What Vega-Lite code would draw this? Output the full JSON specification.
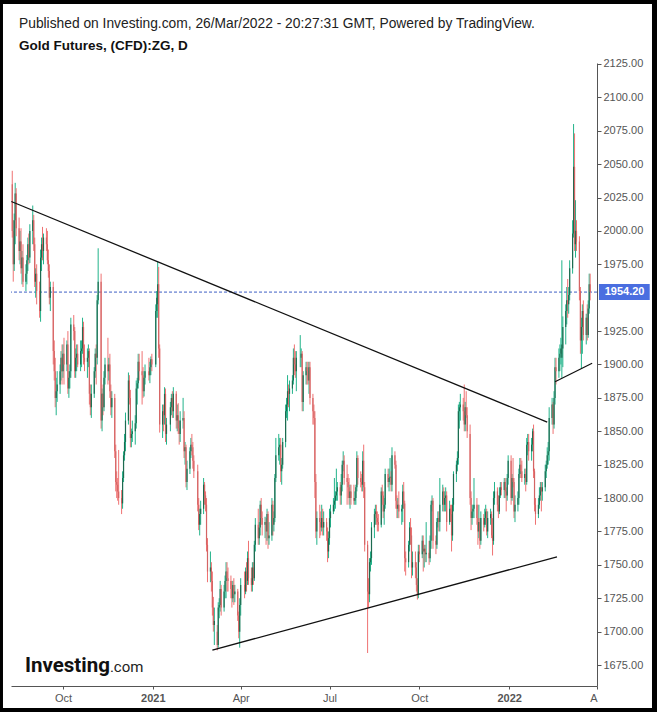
{
"$schema": "https://vega.github.io/schema/vega-lite/v6.json",
"width": 586, "height": 623,
"autosize": {"type": "none"},
"padding": {"left": 11, "top": 63, "right": 60, "bottom": 26},
"background": "#000000",
"config": {"view": {"stroke": null}, "font": "Liberation Sans", "axis": {"labelOverlap": false, "grid": false, "title": null}},
"title": {"text": "Published on Investing.com, 26/Mar/2022 - 20:27:31 GMT, Powered by TradingView.", "subtitle": "Gold Futures, (CFD):ZG, D", "anchor": "start", "frame": "group", "dx": 8, "offset": -49, "zindex": 2, "font": "Liberation Sans", "fontSize": 13.8, "fontWeight": "normal", "color": "#222222", "subtitleFont": "Liberation Sans", "subtitleFontSize": 13.5, "subtitleFontWeight": "bold", "subtitleColor": "#111111", "subtitlePadding": 9},
"datasets": {
"ohlc": [
{"date":"2020-08-10","o":2035,"h":2045,"l":1995,"c":2000},
{"date":"2020-08-11","o":2000,"h":2008,"l":1962,"c":1975},
{"date":"2020-08-12","o":1975,"h":2013,"l":1970,"c":2008},
{"date":"2020-08-13","o":2008,"h":2036,"l":1990,"c":2028},
{"date":"2020-08-14","o":2028,"h":2032,"l":1996,"c":2002},
{"date":"2020-08-17","o":2002,"h":2010,"l":1978,"c":1985},
{"date":"2020-08-18","o":1985,"h":2000,"l":1975,"c":1992},
{"date":"2020-08-19","o":1992,"h":2002,"l":1968,"c":1972},
{"date":"2020-08-20","o":1972,"h":1985,"l":1960,"c":1980},
{"date":"2020-08-21","o":1980,"h":1990,"l":1958,"c":1962},
{"date":"2020-08-24","o":1962,"h":1975,"l":1955,"c":1968},
{"date":"2020-08-25","o":1968,"h":1982,"l":1960,"c":1978},
{"date":"2020-08-26","o":1978,"h":1995,"l":1970,"c":1990},
{"date":"2020-08-27","o":1990,"h":1998,"l":1975,"c":1980},
{"date":"2020-08-28","o":1980,"h":2005,"l":1976,"c":2000},
{"date":"2020-08-31","o":2000,"h":2019,"l":1990,"c":2008},
{"date":"2020-09-01","o":2008,"h":2012,"l":1985,"c":1990},
{"date":"2020-09-02","o":1990,"h":1995,"l":1958,"c":1962},
{"date":"2020-09-03","o":1962,"h":1972,"l":1950,"c":1968},
{"date":"2020-09-04","o":1968,"h":1975,"l":1945,"c":1955},
{"date":"2020-09-07","o":1955,"h":1962,"l":1935,"c":1940},
{"date":"2020-09-08","o":1940,"h":1986,"l":1932,"c":1980},
{"date":"2020-09-09","o":1980,"h":1995,"l":1970,"c":1990},
{"date":"2020-09-10","o":1990,"h":2003,"l":1978,"c":1985},
{"date":"2020-09-11","o":1985,"h":1998,"l":1975,"c":1995},
{"date":"2020-09-14","o":1995,"h":2002,"l":1985,"c":1990},
{"date":"2020-09-15","o":1990,"h":2000,"l":1975,"c":1978},
{"date":"2020-09-16","o":1978,"h":1986,"l":1965,"c":1970},
{"date":"2020-09-17","o":1970,"h":1975,"l":1945,"c":1950},
{"date":"2020-09-18","o":1950,"h":1962,"l":1940,"c":1958},
{"date":"2020-09-21","o":1958,"h":1962,"l":1900,"c":1910},
{"date":"2020-09-22","o":1910,"h":1918,"l":1888,"c":1895},
{"date":"2020-09-23","o":1895,"h":1905,"l":1868,"c":1875},
{"date":"2020-09-24","o":1875,"h":1890,"l":1862,"c":1880},
{"date":"2020-09-25","o":1880,"h":1895,"l":1872,"c":1885},
{"date":"2020-09-28","o":1885,"h":1900,"l":1878,"c":1895},
{"date":"2020-09-29","o":1895,"h":1910,"l":1888,"c":1905},
{"date":"2020-09-30","o":1905,"h":1915,"l":1885,"c":1895},
{"date":"2020-10-01","o":1895,"h":1915,"l":1890,"c":1908},
{"date":"2020-10-02","o":1908,"h":1920,"l":1885,"c":1900},
{"date":"2020-10-05","o":1900,"h":1918,"l":1895,"c":1915},
{"date":"2020-10-06","o":1915,"h":1925,"l":1878,"c":1882},
{"date":"2020-10-07","o":1882,"h":1895,"l":1875,"c":1890},
{"date":"2020-10-08","o":1890,"h":1900,"l":1882,"c":1895},
{"date":"2020-10-09","o":1895,"h":1935,"l":1890,"c":1930},
{"date":"2020-10-12","o":1930,"h":1937,"l":1918,"c":1925},
{"date":"2020-10-13","o":1925,"h":1928,"l":1890,"c":1895},
{"date":"2020-10-14","o":1895,"h":1912,"l":1890,"c":1905},
{"date":"2020-10-15","o":1905,"h":1915,"l":1895,"c":1908},
{"date":"2020-10-16","o":1908,"h":1915,"l":1898,"c":1900},
{"date":"2020-10-19","o":1900,"h":1918,"l":1895,"c":1910},
{"date":"2020-10-20","o":1910,"h":1918,"l":1898,"c":1912},
{"date":"2020-10-21","o":1912,"h":1935,"l":1908,"c":1928},
{"date":"2020-10-22","o":1928,"h":1932,"l":1900,"c":1905},
{"date":"2020-10-23","o":1905,"h":1915,"l":1895,"c":1902},
{"date":"2020-10-26","o":1902,"h":1912,"l":1890,"c":1905},
{"date":"2020-10-27","o":1905,"h":1915,"l":1898,"c":1910},
{"date":"2020-10-28","o":1910,"h":1912,"l":1870,"c":1878},
{"date":"2020-10-29","o":1878,"h":1885,"l":1862,"c":1868},
{"date":"2020-10-30","o":1868,"h":1885,"l":1860,"c":1878},
{"date":"2020-11-02","o":1878,"h":1898,"l":1875,"c":1895},
{"date":"2020-11-03","o":1895,"h":1912,"l":1890,"c":1908},
{"date":"2020-11-04","o":1908,"h":1915,"l":1885,"c":1905},
{"date":"2020-11-05","o":1905,"h":1952,"l":1900,"c":1948},
{"date":"2020-11-06","o":1948,"h":1987,"l":1945,"c":1962},
{"date":"2020-11-09","o":1962,"h":1968,"l":1852,"c":1858},
{"date":"2020-11-10","o":1858,"h":1882,"l":1850,"c":1878},
{"date":"2020-11-11","o":1878,"h":1885,"l":1862,"c":1868},
{"date":"2020-11-12","o":1868,"h":1895,"l":1865,"c":1890},
{"date":"2020-11-13","o":1890,"h":1905,"l":1885,"c":1900},
{"date":"2020-11-16","o":1900,"h":1920,"l":1885,"c":1895},
{"date":"2020-11-17","o":1895,"h":1905,"l":1888,"c":1900},
{"date":"2020-11-18","o":1900,"h":1908,"l":1875,"c":1880},
{"date":"2020-11-19","o":1880,"h":1885,"l":1862,"c":1868},
{"date":"2020-11-20","o":1868,"h":1880,"l":1860,"c":1875},
{"date":"2020-11-23","o":1875,"h":1878,"l":1830,"c":1835},
{"date":"2020-11-24","o":1835,"h":1840,"l":1805,"c":1812},
{"date":"2020-11-25","o":1812,"h":1820,"l":1800,"c":1810},
{"date":"2020-11-26","o":1810,"h":1815,"l":1798,"c":1805},
{"date":"2020-11-27","o":1805,"h":1836,"l":1795,"c":1800},
{"date":"2020-11-30","o":1800,"h":1806,"l":1788,"c":1796},
{"date":"2020-12-01","o":1796,"h":1820,"l":1792,"c":1815},
{"date":"2020-12-02","o":1815,"h":1835,"l":1812,"c":1832},
{"date":"2020-12-03","o":1832,"h":1848,"l":1828,"c":1842},
{"date":"2020-12-04","o":1842,"h":1864,"l":1835,"c":1858},
{"date":"2020-12-07","o":1858,"h":1894,"l":1855,"c":1888},
{"date":"2020-12-08","o":1888,"h":1892,"l":1870,"c":1875},
{"date":"2020-12-09","o":1875,"h":1881,"l":1838,"c":1845},
{"date":"2020-12-10","o":1845,"h":1852,"l":1838,"c":1848},
{"date":"2020-12-11","o":1848,"h":1858,"l":1842,"c":1850},
{"date":"2020-12-14","o":1850,"h":1862,"l":1840,"c":1856},
{"date":"2020-12-15","o":1856,"h":1888,"l":1852,"c":1882},
{"date":"2020-12-16","o":1882,"h":1890,"l":1870,"c":1886},
{"date":"2020-12-17","o":1886,"h":1908,"l":1882,"c":1902},
{"date":"2020-12-18","o":1902,"h":1908,"l":1888,"c":1895},
{"date":"2020-12-21","o":1895,"h":1910,"l":1870,"c":1892},
{"date":"2020-12-22","o":1892,"h":1898,"l":1875,"c":1880},
{"date":"2020-12-23","o":1880,"h":1895,"l":1876,"c":1890},
{"date":"2020-12-24","o":1890,"h":1900,"l":1885,"c":1895},
{"date":"2020-12-28","o":1895,"h":1905,"l":1888,"c":1892},
{"date":"2020-12-29","o":1892,"h":1902,"l":1886,"c":1898},
{"date":"2020-12-30","o":1898,"h":1906,"l":1892,"c":1904},
{"date":"2020-12-31","o":1904,"h":1908,"l":1895,"c":1900},
{"date":"2021-01-04","o":1900,"h":1945,"l":1898,"c":1940},
{"date":"2021-01-05","o":1940,"h":1955,"l":1935,"c":1950},
{"date":"2021-01-06","o":1945,"h":1977,"l":1935,"c":1960},
{"date":"2021-01-07","o":1960,"h":1973,"l":1905,"c":1912},
{"date":"2021-01-08","o":1912,"h":1915,"l":1849,"c":1855},
{"date":"2021-01-11","o":1855,"h":1870,"l":1845,"c":1865},
{"date":"2021-01-12","o":1865,"h":1870,"l":1850,"c":1862},
{"date":"2021-01-13","o":1862,"h":1883,"l":1855,"c":1878},
{"date":"2021-01-14","o":1878,"h":1882,"l":1842,"c":1848},
{"date":"2021-01-15","o":1848,"h":1860,"l":1840,"c":1855},
{"date":"2021-01-19","o":1855,"h":1872,"l":1850,"c":1868},
{"date":"2021-01-20","o":1868,"h":1878,"l":1862,"c":1875},
{"date":"2021-01-21","o":1875,"h":1880,"l":1860,"c":1865},
{"date":"2021-01-22","o":1865,"h":1883,"l":1860,"c":1878},
{"date":"2021-01-25","o":1878,"h":1880,"l":1852,"c":1858},
{"date":"2021-01-26","o":1858,"h":1870,"l":1850,"c":1862},
{"date":"2021-01-27","o":1862,"h":1871,"l":1848,"c":1852},
{"date":"2021-01-28","o":1852,"h":1858,"l":1840,"c":1848},
{"date":"2021-01-29","o":1848,"h":1865,"l":1842,"c":1858},
{"date":"2021-02-01","o":1858,"h":1875,"l":1852,"c":1860},
{"date":"2021-02-02","o":1860,"h":1865,"l":1830,"c":1835},
{"date":"2021-02-03","o":1835,"h":1842,"l":1825,"c":1838},
{"date":"2021-02-04","o":1838,"h":1840,"l":1808,"c":1812},
{"date":"2021-02-05","o":1812,"h":1828,"l":1806,"c":1822},
{"date":"2021-02-08","o":1822,"h":1838,"l":1818,"c":1835},
{"date":"2021-02-09","o":1835,"h":1845,"l":1830,"c":1840},
{"date":"2021-02-10","o":1840,"h":1848,"l":1832,"c":1838},
{"date":"2021-02-11","o":1838,"h":1842,"l":1822,"c":1828},
{"date":"2021-02-12","o":1828,"h":1832,"l":1815,"c":1820},
{"date":"2021-02-16","o":1820,"h":1825,"l":1790,"c":1795},
{"date":"2021-02-17","o":1795,"h":1800,"l":1776,"c":1780},
{"date":"2021-02-18","o":1780,"h":1792,"l":1772,"c":1788},
{"date":"2021-02-19","o":1788,"h":1798,"l":1780,"c":1792},
{"date":"2021-02-22","o":1792,"h":1815,"l":1788,"c":1810},
{"date":"2021-02-23","o":1810,"h":1812,"l":1795,"c":1802},
{"date":"2021-02-24","o":1802,"h":1805,"l":1790,"c":1795},
{"date":"2021-02-25","o":1795,"h":1800,"l":1760,"c":1765},
{"date":"2021-02-26","o":1765,"h":1770,"l":1737,"c":1745},
{"date":"2021-03-01","o":1745,"h":1760,"l":1737,"c":1748},
{"date":"2021-03-02","o":1748,"h":1752,"l":1730,"c":1738},
{"date":"2021-03-03","o":1738,"h":1745,"l":1712,"c":1718},
{"date":"2021-03-04","o":1718,"h":1726,"l":1700,"c":1705},
{"date":"2021-03-05","o":1705,"h":1718,"l":1690,"c":1708},
{"date":"2021-03-08","o":1700,"h":1705,"l":1686,"c":1690},
{"date":"2021-03-09","o":1690,"h":1722,"l":1688,"c":1718},
{"date":"2021-03-10","o":1718,"h":1725,"l":1710,"c":1720},
{"date":"2021-03-11","o":1720,"h":1738,"l":1715,"c":1732},
{"date":"2021-03-12","o":1732,"h":1735,"l":1712,"c":1718},
{"date":"2021-03-15","o":1718,"h":1735,"l":1715,"c":1730},
{"date":"2021-03-16","o":1730,"h":1742,"l":1725,"c":1738},
{"date":"2021-03-17","o":1738,"h":1752,"l":1725,"c":1745},
{"date":"2021-03-18","o":1745,"h":1752,"l":1730,"c":1740},
{"date":"2021-03-19","o":1740,"h":1748,"l":1730,"c":1738},
{"date":"2021-03-22","o":1738,"h":1742,"l":1725,"c":1732},
{"date":"2021-03-23","o":1732,"h":1738,"l":1718,"c":1725},
{"date":"2021-03-24","o":1725,"h":1738,"l":1722,"c":1735},
{"date":"2021-03-25","o":1735,"h":1740,"l":1720,"c":1728},
{"date":"2021-03-26","o":1728,"h":1735,"l":1722,"c":1730},
{"date":"2021-03-29","o":1730,"h":1732,"l":1708,"c":1712},
{"date":"2021-03-30","o":1712,"h":1715,"l":1695,"c":1700},
{"date":"2021-03-31","o":1700,"h":1725,"l":1688,"c":1720},
{"date":"2021-04-01","o":1720,"h":1740,"l":1712,"c":1735},
{"date":"2021-04-05","o":1735,"h":1745,"l":1725,"c":1730},
{"date":"2021-04-06","o":1730,"h":1748,"l":1728,"c":1745},
{"date":"2021-04-07","o":1745,"h":1752,"l":1730,"c":1738},
{"date":"2021-04-08","o":1738,"h":1760,"l":1735,"c":1755},
{"date":"2021-04-09","o":1755,"h":1768,"l":1735,"c":1740},
{"date":"2021-04-12","o":1740,"h":1748,"l":1730,"c":1735},
{"date":"2021-04-13","o":1735,"h":1752,"l":1730,"c":1748},
{"date":"2021-04-14","o":1748,"h":1752,"l":1735,"c":1740},
{"date":"2021-04-15","o":1740,"h":1768,"l":1738,"c":1765},
{"date":"2021-04-16","o":1765,"h":1785,"l":1760,"c":1780},
{"date":"2021-04-19","o":1780,"h":1792,"l":1765,"c":1770},
{"date":"2021-04-20","o":1770,"h":1782,"l":1765,"c":1778},
{"date":"2021-04-21","o":1778,"h":1798,"l":1772,"c":1795},
{"date":"2021-04-22","o":1795,"h":1800,"l":1780,"c":1785},
{"date":"2021-04-23","o":1785,"h":1790,"l":1772,"c":1780},
{"date":"2021-04-26","o":1780,"h":1786,"l":1770,"c":1782},
{"date":"2021-04-27","o":1782,"h":1785,"l":1765,"c":1775},
{"date":"2021-04-28","o":1775,"h":1792,"l":1768,"c":1788},
{"date":"2021-04-29","o":1788,"h":1790,"l":1762,"c":1770},
{"date":"2021-04-30","o":1770,"h":1782,"l":1765,"c":1772},
{"date":"2021-05-03","o":1772,"h":1800,"l":1768,"c":1795},
{"date":"2021-05-04","o":1795,"h":1798,"l":1772,"c":1780},
{"date":"2021-05-05","o":1780,"h":1790,"l":1775,"c":1785},
{"date":"2021-05-06","o":1785,"h":1818,"l":1782,"c":1815},
{"date":"2021-05-07","o":1815,"h":1845,"l":1812,"c":1832},
{"date":"2021-05-10","o":1832,"h":1848,"l":1828,"c":1838},
{"date":"2021-05-11","o":1838,"h":1845,"l":1825,"c":1840},
{"date":"2021-05-12","o":1840,"h":1845,"l":1812,"c":1820},
{"date":"2021-05-13","o":1820,"h":1830,"l":1810,"c":1825},
{"date":"2021-05-14","o":1825,"h":1845,"l":1822,"c":1842},
{"date":"2021-05-17","o":1842,"h":1870,"l":1838,"c":1865},
{"date":"2021-05-18","o":1865,"h":1875,"l":1860,"c":1870},
{"date":"2021-05-19","o":1870,"h":1892,"l":1858,"c":1880},
{"date":"2021-05-20","o":1880,"h":1885,"l":1868,"c":1878},
{"date":"2021-05-21","o":1878,"h":1888,"l":1865,"c":1882},
{"date":"2021-05-24","o":1882,"h":1892,"l":1878,"c":1888},
{"date":"2021-05-25","o":1888,"h":1912,"l":1885,"c":1905},
{"date":"2021-05-26","o":1905,"h":1915,"l":1892,"c":1900},
{"date":"2021-05-27","o":1900,"h":1910,"l":1890,"c":1895},
{"date":"2021-05-28","o":1895,"h":1910,"l":1880,"c":1905},
{"date":"2021-06-01","o":1905,"h":1922,"l":1898,"c":1905},
{"date":"2021-06-02","o":1905,"h":1912,"l":1898,"c":1908},
{"date":"2021-06-03","o":1908,"h":1910,"l":1865,"c":1872},
{"date":"2021-06-04","o":1872,"h":1895,"l":1865,"c":1892},
{"date":"2021-06-07","o":1892,"h":1902,"l":1885,"c":1898},
{"date":"2021-06-08","o":1898,"h":1902,"l":1885,"c":1895},
{"date":"2021-06-09","o":1895,"h":1902,"l":1885,"c":1888},
{"date":"2021-06-10","o":1888,"h":1902,"l":1878,"c":1898},
{"date":"2021-06-11","o":1898,"h":1902,"l":1870,"c":1875},
{"date":"2021-06-14","o":1875,"h":1878,"l":1855,"c":1865},
{"date":"2021-06-15","o":1865,"h":1870,"l":1855,"c":1860},
{"date":"2021-06-16","o":1860,"h":1865,"l":1800,"c":1812},
{"date":"2021-06-17","o":1812,"h":1818,"l":1770,"c":1775},
{"date":"2021-06-18","o":1775,"h":1790,"l":1765,"c":1785},
{"date":"2021-06-21","o":1785,"h":1795,"l":1770,"c":1782},
{"date":"2021-06-22","o":1782,"h":1790,"l":1772,"c":1778},
{"date":"2021-06-23","o":1778,"h":1795,"l":1775,"c":1785},
{"date":"2021-06-24","o":1785,"h":1792,"l":1772,"c":1778},
{"date":"2021-06-25","o":1778,"h":1790,"l":1772,"c":1782},
{"date":"2021-06-28","o":1782,"h":1785,"l":1768,"c":1775},
{"date":"2021-06-29","o":1775,"h":1778,"l":1752,"c":1760},
{"date":"2021-06-30","o":1760,"h":1775,"l":1755,"c":1770},
{"date":"2021-07-01","o":1770,"h":1792,"l":1765,"c":1785},
{"date":"2021-07-02","o":1785,"h":1795,"l":1778,"c":1790},
{"date":"2021-07-05","o":1790,"h":1800,"l":1788,"c":1795},
{"date":"2021-07-06","o":1795,"h":1815,"l":1790,"c":1798},
{"date":"2021-07-07","o":1798,"h":1805,"l":1792,"c":1802},
{"date":"2021-07-08","o":1802,"h":1822,"l":1798,"c":1805},
{"date":"2021-07-09","o":1805,"h":1812,"l":1798,"c":1808},
{"date":"2021-07-12","o":1808,"h":1812,"l":1795,"c":1802},
{"date":"2021-07-13","o":1802,"h":1818,"l":1795,"c":1810},
{"date":"2021-07-14","o":1810,"h":1828,"l":1805,"c":1825},
{"date":"2021-07-15","o":1825,"h":1835,"l":1820,"c":1828},
{"date":"2021-07-16","o":1828,"h":1832,"l":1810,"c":1815},
{"date":"2021-07-19","o":1815,"h":1825,"l":1795,"c":1812},
{"date":"2021-07-20","o":1812,"h":1818,"l":1800,"c":1808},
{"date":"2021-07-21","o":1808,"h":1815,"l":1795,"c":1800},
{"date":"2021-07-22","o":1800,"h":1810,"l":1792,"c":1805},
{"date":"2021-07-23","o":1805,"h":1810,"l":1795,"c":1800},
{"date":"2021-07-26","o":1800,"h":1810,"l":1795,"c":1798},
{"date":"2021-07-27","o":1798,"h":1805,"l":1795,"c":1800},
{"date":"2021-07-28","o":1800,"h":1810,"l":1795,"c":1808},
{"date":"2021-07-29","o":1808,"h":1835,"l":1805,"c":1830},
{"date":"2021-07-30","o":1830,"h":1832,"l":1810,"c":1815},
{"date":"2021-08-02","o":1815,"h":1820,"l":1808,"c":1812},
{"date":"2021-08-03","o":1812,"h":1818,"l":1805,"c":1810},
{"date":"2021-08-04","o":1810,"h":1835,"l":1805,"c":1828},
{"date":"2021-08-05","o":1828,"h":1840,"l":1800,"c":1808},
{"date":"2021-08-06","o":1808,"h":1812,"l":1760,"c":1765},
{"date":"2021-08-09","o":1765,"h":1768,"l":1684,"c":1730},
{"date":"2021-08-10","o":1730,"h":1740,"l":1718,"c":1728},
{"date":"2021-08-11","o":1728,"h":1755,"l":1722,"c":1752},
{"date":"2021-08-12","o":1752,"h":1760,"l":1745,"c":1755},
{"date":"2021-08-13","o":1755,"h":1782,"l":1750,"c":1778},
{"date":"2021-08-16","o":1778,"h":1792,"l":1770,"c":1788},
{"date":"2021-08-17","o":1788,"h":1795,"l":1780,"c":1790},
{"date":"2021-08-18","o":1790,"h":1795,"l":1780,"c":1785},
{"date":"2021-08-19","o":1785,"h":1790,"l":1775,"c":1782},
{"date":"2021-08-20","o":1782,"h":1788,"l":1775,"c":1780},
{"date":"2021-08-23","o":1780,"h":1808,"l":1778,"c":1805},
{"date":"2021-08-24","o":1805,"h":1810,"l":1795,"c":1802},
{"date":"2021-08-25","o":1802,"h":1805,"l":1785,"c":1790},
{"date":"2021-08-26","o":1790,"h":1800,"l":1780,"c":1795},
{"date":"2021-08-27","o":1795,"h":1822,"l":1792,"c":1818},
{"date":"2021-08-30","o":1818,"h":1822,"l":1808,"c":1812},
{"date":"2021-08-31","o":1812,"h":1822,"l":1805,"c":1815},
{"date":"2021-09-01","o":1815,"h":1830,"l":1810,"c":1816},
{"date":"2021-09-02","o":1816,"h":1820,"l":1805,"c":1810},
{"date":"2021-09-03","o":1810,"h":1838,"l":1805,"c":1832},
{"date":"2021-09-06","o":1832,"h":1835,"l":1822,"c":1825},
{"date":"2021-09-07","o":1825,"h":1828,"l":1792,"c":1798},
{"date":"2021-09-08","o":1798,"h":1802,"l":1785,"c":1792},
{"date":"2021-09-09","o":1792,"h":1800,"l":1785,"c":1795},
{"date":"2021-09-10","o":1795,"h":1805,"l":1785,"c":1790},
{"date":"2021-09-13","o":1790,"h":1795,"l":1780,"c":1792},
{"date":"2021-09-14","o":1792,"h":1810,"l":1782,"c":1805},
{"date":"2021-09-15","o":1805,"h":1812,"l":1792,"c":1796},
{"date":"2021-09-16","o":1796,"h":1798,"l":1745,"c":1755},
{"date":"2021-09-17","o":1755,"h":1760,"l":1742,"c":1752},
{"date":"2021-09-20","o":1752,"h":1768,"l":1748,"c":1765},
{"date":"2021-09-21","o":1765,"h":1782,"l":1760,"c":1778},
{"date":"2021-09-22","o":1778,"h":1785,"l":1765,"c":1772},
{"date":"2021-09-23","o":1772,"h":1778,"l":1740,"c":1748},
{"date":"2021-09-24","o":1748,"h":1760,"l":1742,"c":1752},
{"date":"2021-09-27","o":1752,"h":1760,"l":1740,"c":1748},
{"date":"2021-09-28","o":1748,"h":1752,"l":1730,"c":1735},
{"date":"2021-09-29","o":1735,"h":1740,"l":1724,"c":1728},
{"date":"2021-09-30","o":1728,"h":1765,"l":1725,"c":1760},
{"date":"2021-10-01","o":1760,"h":1765,"l":1752,"c":1758},
{"date":"2021-10-04","o":1758,"h":1772,"l":1755,"c":1768},
{"date":"2021-10-05","o":1768,"h":1772,"l":1745,"c":1760},
{"date":"2021-10-06","o":1760,"h":1765,"l":1748,"c":1762},
{"date":"2021-10-07","o":1762,"h":1765,"l":1752,"c":1758},
{"date":"2021-10-08","o":1758,"h":1782,"l":1752,"c":1759},
{"date":"2021-10-11","o":1759,"h":1768,"l":1750,"c":1755},
{"date":"2021-10-12","o":1755,"h":1772,"l":1752,"c":1768},
{"date":"2021-10-13","o":1768,"h":1798,"l":1762,"c":1795},
{"date":"2021-10-14","o":1795,"h":1802,"l":1790,"c":1798},
{"date":"2021-10-15","o":1798,"h":1800,"l":1762,"c":1768},
{"date":"2021-10-18","o":1768,"h":1772,"l":1758,"c":1765},
{"date":"2021-10-19","o":1765,"h":1785,"l":1762,"c":1782},
{"date":"2021-10-20","o":1782,"h":1790,"l":1778,"c":1785},
{"date":"2021-10-21","o":1785,"h":1790,"l":1775,"c":1782},
{"date":"2021-10-22","o":1782,"h":1815,"l":1775,"c":1795},
{"date":"2021-10-25","o":1795,"h":1810,"l":1790,"c":1805},
{"date":"2021-10-26","o":1805,"h":1808,"l":1790,"c":1795},
{"date":"2021-10-27","o":1795,"h":1805,"l":1790,"c":1800},
{"date":"2021-10-28","o":1800,"h":1808,"l":1790,"c":1802},
{"date":"2021-10-29","o":1802,"h":1805,"l":1775,"c":1782},
{"date":"2021-11-01","o":1782,"h":1798,"l":1780,"c":1792},
{"date":"2021-11-02","o":1792,"h":1795,"l":1782,"c":1788},
{"date":"2021-11-03","o":1788,"h":1795,"l":1760,"c":1772},
{"date":"2021-11-04","o":1772,"h":1800,"l":1768,"c":1795},
{"date":"2021-11-05","o":1795,"h":1820,"l":1790,"c":1818},
{"date":"2021-11-08","o":1818,"h":1828,"l":1812,"c":1825},
{"date":"2021-11-09","o":1825,"h":1835,"l":1820,"c":1830},
{"date":"2021-11-10","o":1830,"h":1870,"l":1825,"c":1865},
{"date":"2021-11-11","o":1865,"h":1872,"l":1852,"c":1868},
{"date":"2021-11-12","o":1868,"h":1878,"l":1858,"c":1870},
{"date":"2021-11-15","o":1870,"h":1875,"l":1858,"c":1865},
{"date":"2021-11-16","o":1865,"h":1885,"l":1850,"c":1855},
{"date":"2021-11-17","o":1855,"h":1872,"l":1850,"c":1868},
{"date":"2021-11-18","o":1868,"h":1880,"l":1860,"c":1862},
{"date":"2021-11-19","o":1862,"h":1868,"l":1845,"c":1850},
{"date":"2021-11-22","o":1848,"h":1855,"l":1795,"c":1800},
{"date":"2021-11-23","o":1800,"h":1805,"l":1776,"c":1785},
{"date":"2021-11-24","o":1785,"h":1795,"l":1780,"c":1790},
{"date":"2021-11-25","o":1790,"h":1795,"l":1785,"c":1792},
{"date":"2021-11-26","o":1792,"h":1815,"l":1785,"c":1795},
{"date":"2021-11-29","o":1795,"h":1800,"l":1780,"c":1785},
{"date":"2021-11-30","o":1785,"h":1795,"l":1765,"c":1775},
{"date":"2021-12-01","o":1775,"h":1795,"l":1770,"c":1782},
{"date":"2021-12-02","o":1782,"h":1785,"l":1762,"c":1768},
{"date":"2021-12-03","o":1768,"h":1790,"l":1765,"c":1785},
{"date":"2021-12-06","o":1785,"h":1788,"l":1775,"c":1780},
{"date":"2021-12-07","o":1780,"h":1792,"l":1778,"c":1785},
{"date":"2021-12-08","o":1785,"h":1795,"l":1780,"c":1790},
{"date":"2021-12-09","o":1790,"h":1792,"l":1772,"c":1775},
{"date":"2021-12-10","o":1775,"h":1790,"l":1770,"c":1785},
{"date":"2021-12-13","o":1785,"h":1792,"l":1780,"c":1788},
{"date":"2021-12-14","o":1788,"h":1790,"l":1770,"c":1772},
{"date":"2021-12-15","o":1772,"h":1785,"l":1757,"c":1768},
{"date":"2021-12-16","o":1768,"h":1805,"l":1765,"c":1800},
{"date":"2021-12-17","o":1800,"h":1812,"l":1795,"c":1805},
{"date":"2021-12-20","o":1805,"h":1808,"l":1790,"c":1795},
{"date":"2021-12-21","o":1795,"h":1802,"l":1785,"c":1790},
{"date":"2021-12-22","o":1790,"h":1808,"l":1788,"c":1802},
{"date":"2021-12-23","o":1802,"h":1812,"l":1800,"c":1808},
{"date":"2021-12-24","o":1808,"h":1812,"l":1802,"c":1806},
{"date":"2021-12-27","o":1806,"h":1815,"l":1800,"c":1812},
{"date":"2021-12-28","o":1812,"h":1815,"l":1800,"c":1805},
{"date":"2021-12-29","o":1805,"h":1808,"l":1790,"c":1802},
{"date":"2021-12-30","o":1802,"h":1818,"l":1798,"c":1815},
{"date":"2021-12-31","o":1815,"h":1832,"l":1810,"c":1828},
{"date":"2022-01-03","o":1828,"h":1832,"l":1795,"c":1800},
{"date":"2022-01-04","o":1800,"h":1818,"l":1798,"c":1815},
{"date":"2022-01-05","o":1815,"h":1830,"l":1808,"c":1812},
{"date":"2022-01-06","o":1812,"h":1815,"l":1785,"c":1790},
{"date":"2022-01-07","o":1790,"h":1802,"l":1782,"c":1795},
{"date":"2022-01-10","o":1795,"h":1805,"l":1790,"c":1800},
{"date":"2022-01-11","o":1800,"h":1822,"l":1795,"c":1818},
{"date":"2022-01-12","o":1818,"h":1830,"l":1815,"c":1825},
{"date":"2022-01-13","o":1825,"h":1830,"l":1815,"c":1820},
{"date":"2022-01-14","o":1820,"h":1828,"l":1812,"c":1815},
{"date":"2022-01-17","o":1815,"h":1822,"l":1810,"c":1818},
{"date":"2022-01-18","o":1818,"h":1822,"l":1805,"c":1812},
{"date":"2022-01-19","o":1812,"h":1845,"l":1810,"c":1840},
{"date":"2022-01-20","o":1840,"h":1848,"l":1832,"c":1842},
{"date":"2022-01-21","o":1842,"h":1848,"l":1828,"c":1835},
{"date":"2022-01-24","o":1835,"h":1845,"l":1828,"c":1840},
{"date":"2022-01-25","o":1840,"h":1852,"l":1835,"c":1850},
{"date":"2022-01-26","o":1850,"h":1855,"l":1815,"c":1820},
{"date":"2022-01-27","o":1820,"h":1822,"l":1790,"c":1795},
{"date":"2022-01-28","o":1795,"h":1800,"l":1780,"c":1788},
{"date":"2022-01-31","o":1788,"h":1800,"l":1785,"c":1795},
{"date":"2022-02-01","o":1795,"h":1808,"l":1792,"c":1802},
{"date":"2022-02-02","o":1802,"h":1812,"l":1798,"c":1808},
{"date":"2022-02-03","o":1808,"h":1812,"l":1790,"c":1805},
{"date":"2022-02-04","o":1805,"h":1812,"l":1798,"c":1808},
{"date":"2022-02-07","o":1808,"h":1825,"l":1805,"c":1820},
{"date":"2022-02-08","o":1820,"h":1828,"l":1815,"c":1825},
{"date":"2022-02-09","o":1825,"h":1838,"l":1822,"c":1832},
{"date":"2022-02-10","o":1832,"h":1842,"l":1825,"c":1835},
{"date":"2022-02-11","o":1835,"h":1868,"l":1828,"c":1860},
{"date":"2022-02-14","o":1860,"h":1875,"l":1855,"c":1870},
{"date":"2022-02-15","o":1870,"h":1872,"l":1848,"c":1855},
{"date":"2022-02-16","o":1855,"h":1880,"l":1852,"c":1875},
{"date":"2022-02-17","o":1875,"h":1905,"l":1870,"c":1898},
{"date":"2022-02-18","o":1898,"h":1905,"l":1885,"c":1895},
{"date":"2022-02-21","o":1895,"h":1912,"l":1890,"c":1905},
{"date":"2022-02-22","o":1905,"h":1915,"l":1895,"c":1908},
{"date":"2022-02-23","o":1908,"h":1920,"l":1900,"c":1912},
{"date":"2022-02-24","o":1905,"h":1978,"l":1890,"c":1915},
{"date":"2022-02-25","o":1912,"h":1936,"l":1898,"c":1928},
{"date":"2022-02-28","o":1928,"h":1945,"l":1915,"c":1940},
{"date":"2022-03-01","o":1940,"h":1958,"l":1930,"c":1948},
{"date":"2022-03-02","o":1948,"h":1964,"l":1935,"c":1945},
{"date":"2022-03-03","o":1945,"h":1958,"l":1938,"c":1952},
{"date":"2022-03-04","o":1952,"h":1978,"l":1948,"c":1972},
{"date":"2022-03-07","o":1972,"h":2008,"l":1968,"c":1998},
{"date":"2022-03-08","o":1998,"h":2080,"l":1995,"c":2048},
{"date":"2022-03-09","o":2048,"h":2073,"l":1985,"c":1990},
{"date":"2022-03-10","o":1990,"h":2023,"l":1980,"c":2000},
{"date":"2022-03-11","o":2000,"h":2008,"l":1985,"c":1992},
{"date":"2022-03-14","o":1992,"h":1996,"l":1948,"c":1955},
{"date":"2022-03-15","o":1955,"h":1958,"l":1908,"c":1918},
{"date":"2022-03-16","o":1918,"h":1935,"l":1897,"c":1928},
{"date":"2022-03-17","o":1928,"h":1945,"l":1908,"c":1940},
{"date":"2022-03-18","o":1940,"h":1948,"l":1918,"c":1922},
{"date":"2022-03-21","o":1922,"h":1938,"l":1915,"c":1935},
{"date":"2022-03-22","o":1935,"h":1945,"l":1918,"c":1922},
{"date":"2022-03-23","o":1922,"h":1948,"l":1920,"c":1942},
{"date":"2022-03-24","o":1942,"h":1968,"l":1938,"c":1960},
{"date":"2022-03-25","o":1960,"h":1968,"l":1948,"c":1954.2}
],
"trend": [
{"d1":"2020-08-09","v1":2022.0,"d2":"2022-02-09","v2":1856.9},
{"d1":"2021-03-03","v1":1686.2,"d2":"2022-02-19","v2":1756.0},
{"d1":"2022-02-17","v1":1887.1,"d2":"2022-03-27","v2":1900.9}
]
},
"layer": [
{
"data": {"values": [{}]},
"mark": {"type": "rect", "fill": "#ffffff"},
"encoding": {
"x": {"datum": {"year": 2020, "month": 7, "date": 31, "hours": 12, "utc": true}, "type": "temporal"},
"x2": {"datum": {"year": 2022, "month": 5, "date": 27, "hours": 8, "utc": true}},
"y": {"datum": 2169.9, "type": "quantitative", "axis": {"orient": "right"}},
"y2": {"datum": 1642.8}
}
},
{
"data": {"values": [{}]},
"mark": {"type": "rule", "stroke": "#3f5fc4", "strokeDash": [3, 2], "strokeWidth": 1},
"encoding": {"y": {"datum": 1954.2, "type": "quantitative", "axis": {"orient": "right"}}}
},
{
"data": {"name": "ohlc"},
"mark": {"type": "rule", "strokeWidth": 1},
"encoding": {
"x": {"field": "date", "type": "temporal",
 "scale": {"type": "utc", "domain": [{"year": 2020, "month": 8, "date": 8, "hours": 17, "utc": true}, {"year": 2022, "month": 4, "date": 1, "utc": true}]},
 "axis": {"title": null, "grid": false, "zindex": 1, "orient": "bottom", "tickCount": 40,
  "values": [{"year": 2020, "month": 10, "date": 1, "utc": true}, {"year": 2021, "month": 1, "date": 1, "utc": true}, {"year": 2021, "month": 4, "date": 1, "utc": true}, {"year": 2021, "month": 7, "date": 1, "utc": true}, {"year": 2021, "month": 10, "date": 1, "utc": true}, {"year": 2022, "month": 1, "date": 1, "utc": true}, {"year": 2022, "month": 4, "date": 1, "utc": true}],
  "labelExpr": "utcmonth(datum.value) == 0 ? utcFormat(datum.value, '%Y') : (datum.value >= utc(2022, 2, 15) ? 'A' : utcFormat(datum.value, '%b'))",
  "labelFlush": true, "labelOverlap": false, "labelBound": false,
  "labelFont": "Liberation Sans", "labelFontSize": 11, "labelColor": "#555555",
  "labelFontWeight": {"condition": {"test": "utcmonth(datum.value) == 0", "value": "bold"}, "value": "normal"},
  "tickSize": 3, "tickColor": "#555555", "domainColor": "#555555", "labelPadding": 3}},
"y": {"field": "l", "type": "quantitative",
 "scale": {"domain": [1659.3, 2125.7], "nice": false, "zero": false},
 "axis": {"orient": "right", "title": null, "grid": false, "zindex": 1, "tickCount": 40,
  "values": [1675, 1700, 1725, 1750, 1775, 1800, 1825, 1850, 1875, 1900, 1925, 1975, 2000, 2025, 2050, 2075, 2100, 2125],
  "format": ".2f", "labelFont": "Liberation Sans", "labelFontSize": 11, "labelColor": "#555555",
  "tickSize": 4, "tickColor": "#555555", "domainColor": "#555555", "labelPadding": 2, "labelOverlap": false, "labelBound": false, "labelFlush": false}},
"y2": {"field": "h"},
"color": {"condition": {"test": "datum.c >= datum.o", "value": "#22b38a"}, "value": "#ef7272"}
}
},
{
"data": {"name": "ohlc"},
"mark": {"type": "rule", "strokeWidth": 1.2},
"encoding": {
"x": {"field": "date", "type": "temporal"},
"y": {"field": "o", "type": "quantitative", "axis": {"orient": "right"}},
"y2": {"field": "c"},
"color": {"condition": {"test": "datum.c >= datum.o", "value": "#1d6b50"}, "value": "#d46464"}
}
},
{
"data": {"name": "trend"},
"mark": {"type": "rule", "stroke": "#111111", "strokeWidth": 1.3},
"encoding": {
"x": {"field": "d1", "type": "temporal"},
"x2": {"field": "d2"},
"y": {"field": "v1", "type": "quantitative", "axis": {"orient": "right"}},
"y2": {"field": "v2"}
}
},
{
"data": {"values": [{}]},
"mark": {"type": "rect", "fill": "#4a6ee0"},
"encoding": {
"x": {"datum": {"year": 2022, "month": 4, "date": 3, "utc": true}, "type": "temporal"},
"x2": {"datum": {"year": 2022, "month": 5, "date": 25, "utc": true}},
"y": {"datum": 1960.3, "type": "quantitative", "axis": {"orient": "right"}},
"y2": {"datum": 1948.3}
}
},
{
"data": {"values": [{}]},
"mark": {"type": "text", "text": "1954.20", "color": "#ffffff", "font": "Liberation Sans", "fontSize": 11, "fontWeight": "bold", "align": "center", "baseline": "middle"},
"encoding": {
"x": {"datum": {"year": 2022, "month": 4, "date": 29, "hours": 5, "utc": true}, "type": "temporal"},
"y": {"datum": 1954.2, "type": "quantitative", "axis": {"orient": "right"}}
}
},
{
"data": {"values": [{}]},
"mark": {"type": "text", "text": "Investing", "color": "#111111", "font": "Roboto", "fontSize": 20.5, "fontWeight": "bold", "align": "left", "baseline": "alphabetic"},
"encoding": {
"x": {"datum": {"year": 2020, "month": 8, "date": 23, "utc": true}, "type": "temporal"},
"y": {"datum": 1669.8, "type": "quantitative", "axis": {"orient": "right"}}
}
},
{
"data": {"values": [{}]},
"mark": {"type": "text", "text": ".com", "color": "#222222", "font": "Roboto", "fontSize": 15, "align": "left", "baseline": "alphabetic"},
"encoding": {
"x": {"datum": {"year": 2020, "month": 11, "date": 18, "utc": true}, "type": "temporal"},
"y": {"datum": 1669.8, "type": "quantitative", "axis": {"orient": "right"}}
}
}
]
}
